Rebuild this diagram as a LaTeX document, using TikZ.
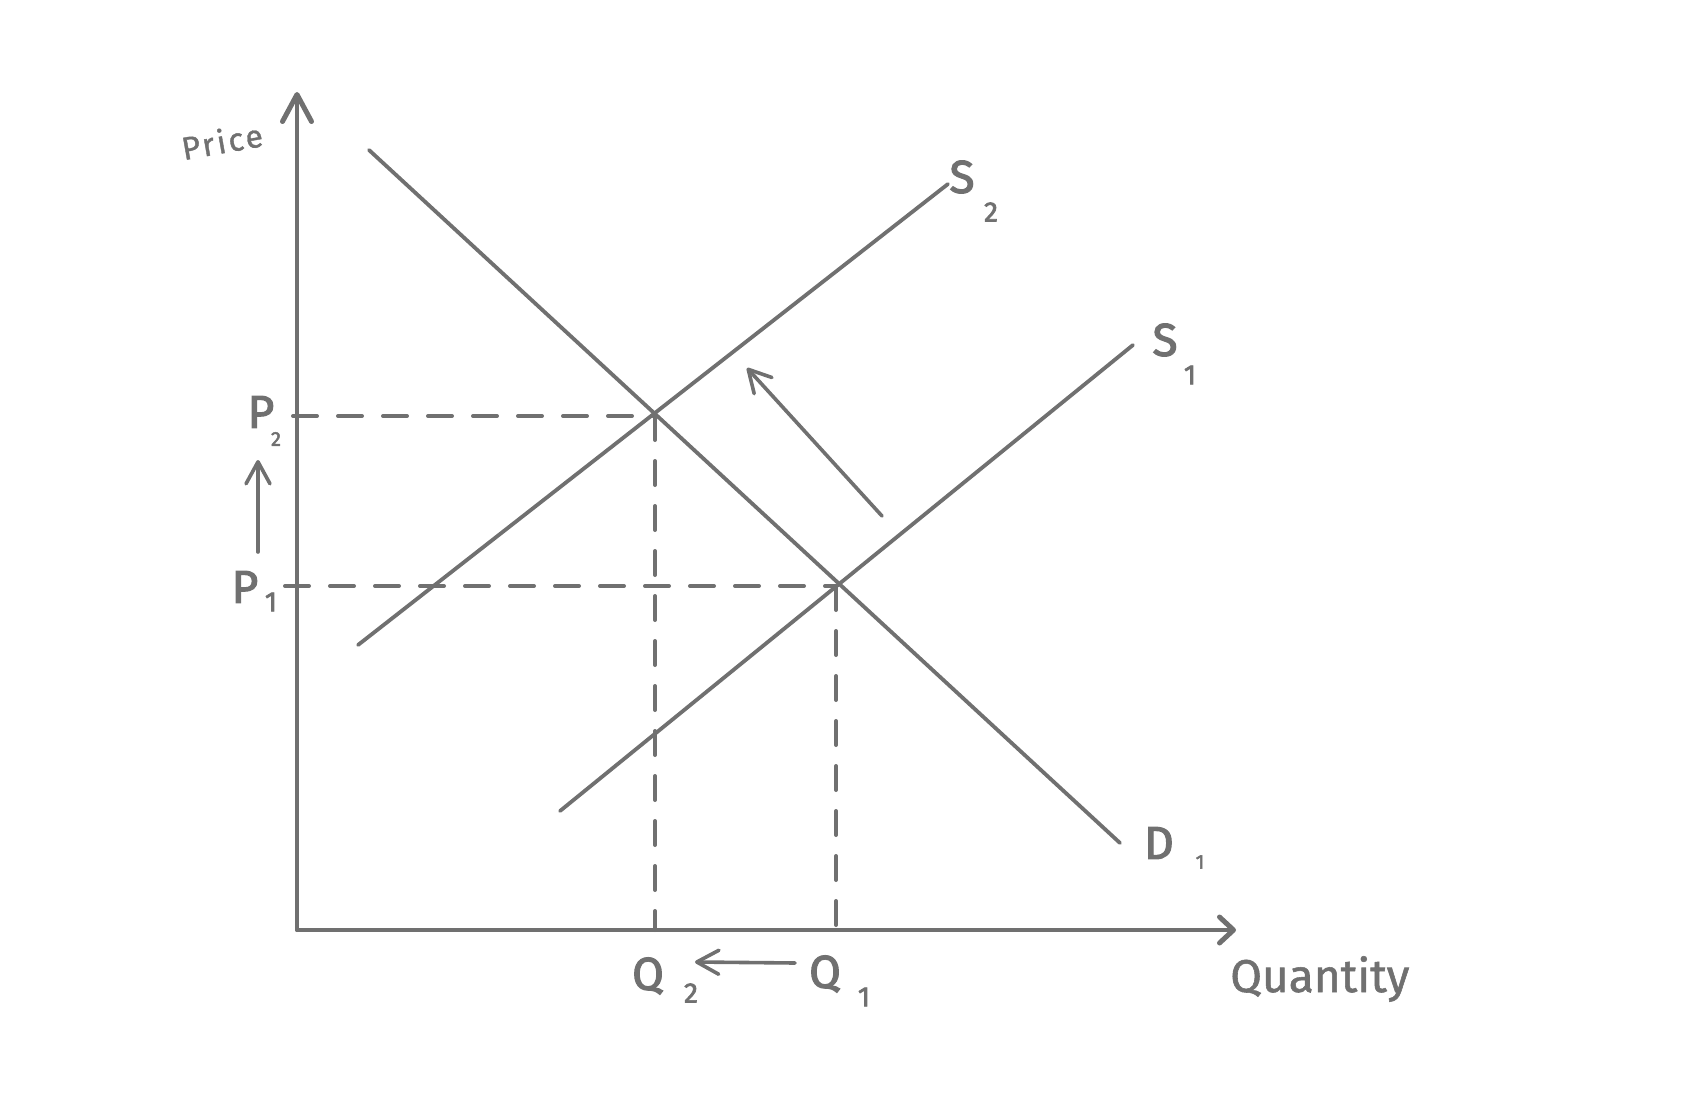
\documentclass[tikz,border=0pt]{standalone}
\usepackage{fontspec}
\setmainfont{Fira Sans}
\newfontfamily\handfont[FakeBold=2.5]{Fira Sans}
\newfontfamily\wordfont[FakeBold=1.2]{Fira Sans}
\newfontfamily\pricefont[FakeBold=1.2, LetterSpace=8]{Fira Sans}
\usetikzlibrary{arrows.meta}
\definecolor{ink}{RGB}{112,112,112}
\tikzset{
  curve/.style={draw=ink, line width=3.8pt, line cap=round},
  axis/.style={draw=ink, line width=4pt, line cap=round},
  guide/.style={draw=ink, line width=4pt, line cap=round, dash pattern=on 24pt off 21pt},
  shiftarrow/.style={draw=ink, line width=3.6pt, line cap=round,
    -{Straight Barb[length=22pt, width=24pt, line width=3.6pt, round]}},
  lab/.style={text=ink, font=\handfont\fontsize{46}{46}\selectfont, inner sep=0pt},
  sublab/.style={text=ink, font=\handfont\fontsize{28}{28}\selectfont, inner sep=0pt},
  tinylab/.style={text=ink, font=\handfont\fontsize{20}{20}\selectfont, inner sep=0pt},
  wordlab/.style={text=ink, inner sep=0pt},
}
\begin{document}
\begin{tikzpicture}[x=1pt, y=-1pt]
\useasboundingbox (0,0) rectangle (1684,1097);
% key points
\coordinate (O) at (297,930);
\coordinate (Ytip) at (297,92);
\coordinate (Xtip) at (1236,930);
\coordinate (E2) at (655,416);
\coordinate (E1) at (836,586);
\coordinate (P2ax) at (293,416);
\coordinate (P1ax) at (285,586);
\coordinate (Q2ax) at (655,930);
\coordinate (Q1ax) at (836,938);
\coordinate (Dstart) at (369,150);
\coordinate (Dend) at (1120,843);
\coordinate (S2start) at (358,645);
\coordinate (S2end) at (948,184);
\coordinate (S1start) at (560,811);
\coordinate (S1end) at (1133,345);
\coordinate (Stail) at (882,516);
\coordinate (Stip) at (747,368);
\coordinate (Ptail) at (258,552);
\coordinate (Ptip) at (258,460);
\coordinate (Qtail) at (795,963);
\coordinate (Qtip) at (695,962);
% axes
\draw[axis, -{Straight Barb[length=27pt, width=29pt, line width=5pt, round]}] (O) -- (Ytip);
\draw[axis, -{Straight Barb[length=14pt, width=26pt, line width=5pt, round]}] (O) -- (Xtip);
% dashed guides
\draw[guide] (P2ax) -- (E2);
\draw[guide] (P1ax) -- (E1);
\draw[guide] (E2) -- (Q2ax);
\draw[guide] (E1) -- (Q1ax);
% curves
\draw[curve] (Dstart) -- (Dend);
\draw[curve] (S2start) -- (S2end);
\draw[curve] (S1start) -- (S1end);
% shift arrows
\draw[shiftarrow] (Stail) -- (Stip);
\draw[shiftarrow] (Ptail) -- (Ptip);
\draw[shiftarrow] (Qtail) -- (Qtip);
% labels
\node[wordlab, font=\pricefont\fontsize{32}{32}\selectfont, rotate=10] (price) at (222,141) {Price};
\node[lab] (P2) at (261,412) {P};
\node[tinylab] (P2s) at (276,439) {2};
\node[lab] (P1) at (245,587) {P};
\node[sublab] (P1s) at (271,602) {1};
\node[lab] (Q2) at (648,976) {Q};
\node[sublab] (Q2s) at (691,993) {2};
\node[lab] (Q1) at (825,974) {Q};
\node[sublab] (Q1s) at (864,997) {1};
\node[lab] (S2) at (962,177) {S};
\node[sublab] (S2s) at (991,212) {2};
\node[lab] (S1) at (1165,340) {S};
\node[sublab] (S1s) at (1190,375) {1};
\node[lab] (D1) at (1159,843) {D};
\node[tinylab] (D1s) at (1200,862) {1};
\node[wordlab, font=\wordfont\fontsize{46}{46}\selectfont, anchor=base west] (qty) at (1230,992) {Quantity};
\end{tikzpicture}
\end{document}
